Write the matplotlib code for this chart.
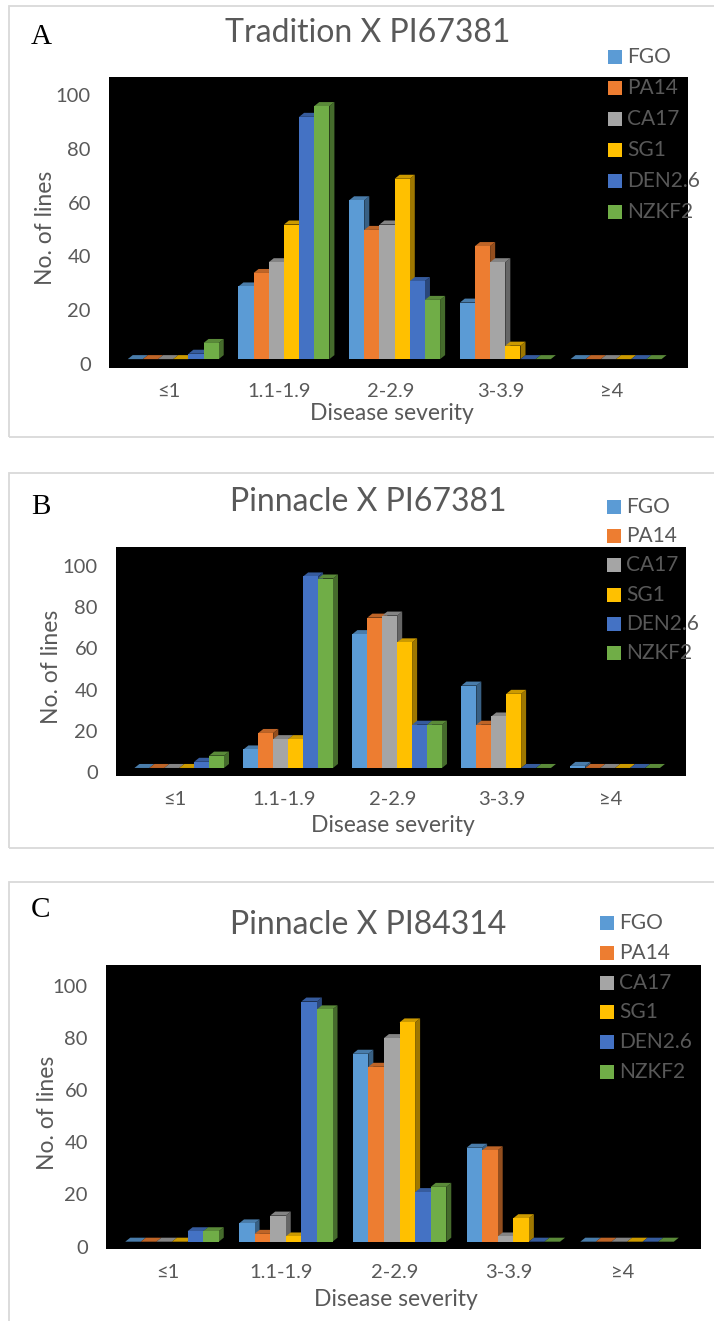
import numpy as np
import matplotlib
matplotlib.use("Agg")
import matplotlib.pyplot as plt
from matplotlib.patches import Polygon, Rectangle
from matplotlib.colors import to_rgb

plt.rcParams['font.family'] = ['Lato', 'DejaVu Sans']

# data
categories = ['≤1', '1.1-1.9', '2-2.9', '3-3.9', '≥4']
series = ['FGO', 'PA14', 'CA17', 'SG1', 'DEN2.6', 'NZKF2']
colors = ['#5B9BD5', '#ED7D31', '#A5A5A5', '#FFC000', '#4472C4', '#70AD47']
y_ticks = [0, 20, 40, 60, 80, 100]

titles = ['Tradition X PI67381', 'Pinnacle X PI67381', 'Pinnacle X PI84314']
letters = ['A', 'B', 'C']

# rows follow `series`, columns follow `categories`
tradition_pi67381 = [
    [0, 27, 59, 21, 0],
    [0, 32, 48, 42, 0],
    [0, 36, 50, 36, 0],
    [0, 50, 67, 5, 0],
    [2, 90, 29, 0, 0],
    [6, 94, 22, 0, 0],
]
pinnacle_pi67381 = [
    [0, 9, 65, 40, 1],
    [0, 17, 73, 21, 0],
    [0, 14, 74, 25, 0],
    [0, 14, 61, 36, 0],
    [3, 93, 21, 0, 0],
    [6, 92, 21, 0, 0],
]
pinnacle_pi84314 = [
    [0, 7, 72, 36, 0],
    [0, 3, 67, 35, 0],
    [0, 10, 78, 2, 0],
    [0, 2, 84, 9, 0],
    [4, 92, 19, 0, 0],
    [4, 89, 21, 0, 0],
]
panel_values = [tradition_pi67381, pinnacle_pi67381, pinnacle_pi84314]

W, H = 714, 1321
fig = plt.figure(figsize=(W / 100, H / 100), dpi=100)
fig.patch.set_facecolor('white')
GRAY = '#595959'


def fx(x):
    return x / W


def fy(y):
    return 1 - y / H


# layout in pixels for each panel
layouts = [
    dict(frame=(6, 437), box=(109, 77, 688, 368), ylim=(-3.3, 104.8), tick_off=5,
         title_y=33, letter_y=37, leg=(608, 57, 31), xlab=(392, 414), ylab=(45, 228)),
    dict(frame=(473, 848), box=(116, 547, 686, 776), ylim=(-3.9, 107.3), tick_off=4,
         title_y=502, letter_y=507, leg=(607, 507, 29.2), xlab=(393, 825), ylab=(52, 667)),
    dict(frame=(882, 1340), box=(106, 965, 701, 1249), ylim=(-2.8, 106.0), tick_off=5,
         title_y=925, letter_y=910, leg=(600, 923, 29.8), xlab=(396, 1300), ylab=(47, 1113)),
]


def shade(c, f):
    r, g, b = to_rgb(c)
    return (r * f, g * f, b * f)


def draw_panel(values, title, letter, lay):
    top, bottom = lay['frame']
    fig.add_artist(Rectangle((fx(9), fy(bottom)), 2, (bottom - top) / H,
                             transform=fig.transFigure, fill=False,
                             ec='#d9d9d9', lw=1.3))

    x0, y0, x1, y1 = lay['box']
    ax = fig.add_axes([fx(x0), fy(y1), (x1 - x0) / W, (y1 - y0) / H])
    ax.set_facecolor('black')
    xlim = (-0.54, 4.69)
    ax.set_xlim(*xlim)
    ax.set_ylim(*lay['ylim'])
    for s in ax.spines.values():
        s.set_visible(False)

    # 3d-ish depth, in data units
    dx = 5 / ((x1 - x0) / (xlim[1] - xlim[0]))
    dy = 4 / ((y1 - y0) / (lay['ylim'][1] - lay['ylim'][0]))

    w = 0.137
    xs = np.arange(len(categories))
    for j in range(len(categories)):
        left = xs[j] + 0.04 - 3 * w
        for i, col in enumerate(colors):
            v = values[i][j]
            a = left + i * w
            b = a + w
            ax.add_patch(Polygon([(b, 0), (b + dx, dy), (b + dx, v + dy), (b, v)],
                                 closed=True, fc=shade(col, 0.62), ec='none', zorder=2))
            ax.add_patch(Polygon([(a, v), (b, v), (b + dx, v + dy), (a + dx, v + dy)],
                                 closed=True, fc=shade(col, 0.8), ec='none', zorder=2))
            ax.bar(a, v, width=w, align='edge', color=col, zorder=2)

    off = lay['tick_off'] * (lay['ylim'][1] - lay['ylim'][0]) / (y1 - y0)
    ax.set_yticks([t - off for t in y_ticks], [str(t) for t in y_ticks])
    ax.set_xticks(xs, categories)
    ax.tick_params(length=0, labelcolor=GRAY, labelsize=14.5)
    ax.tick_params(axis='y', pad=13)
    ax.tick_params(axis='x', pad=11)

    fig.text(fx(368), fy(lay['title_y']), title, ha='center', va='center',
             fontsize=23, color=GRAY)
    fig.text(fx(41), fy(lay['letter_y']), letter, ha='center', va='center',
             fontsize=21, family='Liberation Serif', color='black')
    fig.text(fx(lay['xlab'][0]), fy(lay['xlab'][1]), 'Disease severity',
             ha='center', va='center', fontsize=16.5, color=GRAY)
    fig.text(fx(lay['ylab'][0]), fy(lay['ylab'][1]), 'No. of lines', rotation=90,
             ha='center', va='center', fontsize=16.5, color=GRAY)

    lx, ly, step = lay['leg']
    for i, (name, col) in enumerate(zip(series, colors)):
        cy = ly + i * step
        fig.add_artist(Rectangle((fx(lx), fy(cy + 7)), 14 / W, 14 / H,
                                 transform=fig.transFigure, fc=col, ec='none'))
        fig.text(fx(lx + 19), fy(cy), name, ha='left', va='center',
                 fontsize=15, color=GRAY)


for vals, t, l, lay in zip(panel_values, titles, letters, layouts):
    draw_panel(vals, t, l, lay)

fig.savefig('out.png', dpi=100, facecolor='white')
